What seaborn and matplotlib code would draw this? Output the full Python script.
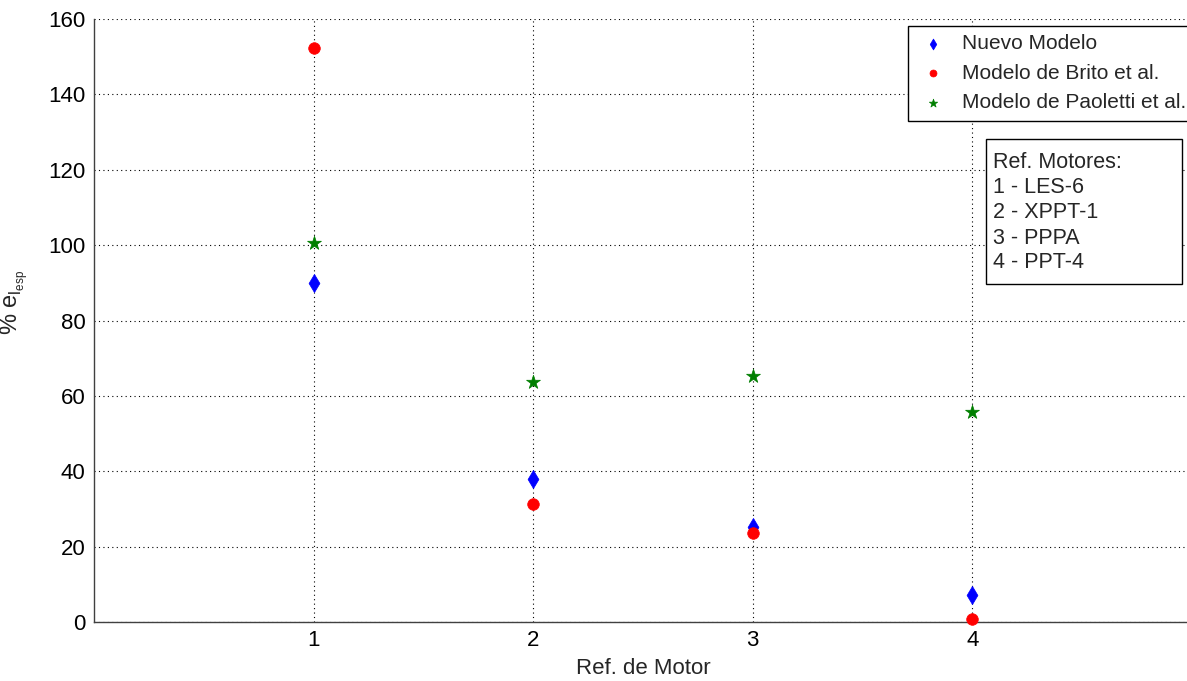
import matplotlib
matplotlib.use("Agg")
import matplotlib.pyplot as plt
from matplotlib.patches import Rectangle
import pandas as pd
import seaborn as sns

motores = [1, 2, 3, 4]
nuevo_modelo = [90.0, 38.0, 25.2, 7.2]
brito = [152.3, 31.3, 23.7, 0.8]
paoletti = [100.5, 63.8, 65.2, 55.8]
series_names = ["Nuevo Modelo", "Modelo de Brito et al.", "Modelo de Paoletti et al."]
ref_lines = ["Ref. Motores:", "1 - LES-6", "2 - XPPT-1", "3 - PPPA", "4 - PPT-4"]

df = pd.DataFrame({
    "motor": motores * 3,
    "error": nuevo_modelo + brito + paoletti,
    "modelo": [n for n in series_names for _ in motores],
})

sns.set_style("white")
plt.rcParams["font.family"] = ["Liberation Sans", "DejaVu Sans"]
plt.rcParams["mathtext.fontset"] = "custom"
plt.rcParams["mathtext.rm"] = "Liberation Sans"

fig = plt.figure(figsize=(11.87, 6.81), dpi=100)
ax = fig.add_axes([0.0792, 0.0866, 0.925, 0.8855])

palette = {"Nuevo Modelo": "#0000ff", "Modelo de Brito et al.": "#ff0000",
           "Modelo de Paoletti et al.": "#007f00"}
markers = {"Nuevo Modelo": "d", "Modelo de Brito et al.": "o",
           "Modelo de Paoletti et al.": "*"}
sizes = {"Nuevo Modelo": 85, "Modelo de Brito et al.": 70, "Modelo de Paoletti et al.": 110}
for name in series_names:
    sub = df[df["modelo"] == name]
    sns.scatterplot(data=sub, x="motor", y="error", color=palette[name],
                    marker=markers[name], s=sizes[name], edgecolor=palette[name],
                    linewidth=0.5, label=name, ax=ax, zorder=3, clip_on=False)

ax.set_xlim(0, 5)
ax.set_ylim(0, 160)
ax.set_xticks(motores)
ax.set_yticks(range(0, 161, 20))
ax.grid(True, color="black", linestyle=(0, (1, 3)), linewidth=0.8)
ax.tick_params(direction="in", length=6, labelsize=16, colors="black", pad=6)
for s in ["top", "right"]:
    ax.spines[s].set_visible(False)
for s in ["left", "bottom"]:
    ax.spines[s].set_color("#404040")
    ax.spines[s].set_linewidth(1.0)

ax.set_xlabel("Ref. de Motor", fontsize=16, labelpad=5)
ax.set_ylabel(r"% $\mathrm{e}_{\mathrm{l}_{\mathrm{esp}}}$", fontsize=17)
ax.yaxis.set_label_coords(-0.058, 0.53)

leg = ax.legend(loc="upper left", bbox_to_anchor=(908 / 1187, 1 - 26 / 681),
                bbox_transform=fig.transFigure, fontsize=15, frameon=True,
                fancybox=False, edgecolor="black", framealpha=1, borderaxespad=0,
                handletextpad=0.6, borderpad=0.4, labelspacing=0.5,
                handlelength=1.6, markerscale=0.6)
leg.get_frame().set_linewidth(1.0)

# caja de referencias de motores
fig.add_artist(Rectangle((986 / 1187, 1 - 284 / 681), 196 / 1187, 145 / 681,
                         transform=fig.transFigure, facecolor="white",
                         edgecolor="black", linewidth=1.0, zorder=5))
for i, line in enumerate(ref_lines):
    fig.text(993 / 1187, 1 - (163 + 25 * i) / 681, line, fontsize=15.5,
             va="center", ha="left", zorder=6)

fig.savefig("out.png", dpi=100)
